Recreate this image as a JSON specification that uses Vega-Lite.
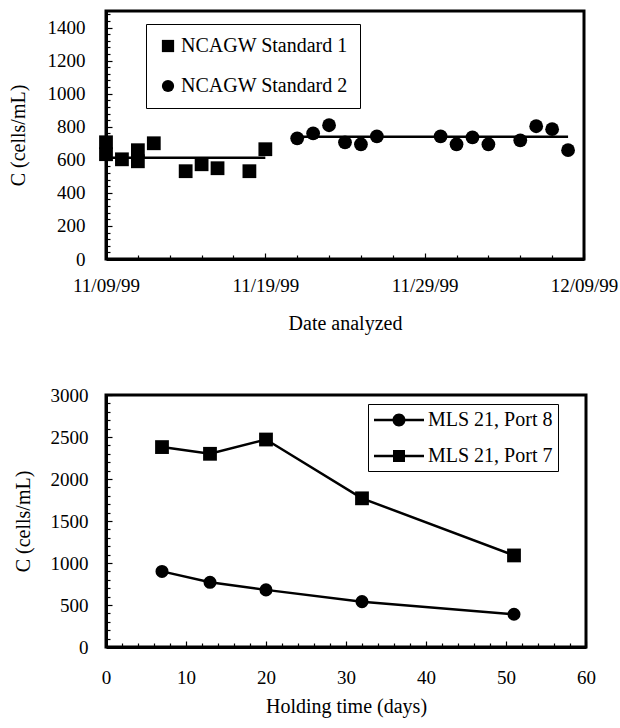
{
  "$schema": "https://vega.github.io/schema/vega-lite/v6.json",
  "padding": {"left": 6, "top": 3, "right": 0, "bottom": 5},
  "background": "white",
  "spacing": 49,
  "resolve": {"scale": {"shape": "independent", "x": "independent", "y": "independent"}, "legend": {"shape": "independent"}},
  "config": {
    "font": "Liberation Serif",
    "view": {"stroke": "black", "strokeWidth": 3},
    "axis": {
      "domainColor": "black", "domainWidth": 3, "tickColor": "black", "tickWidth": 1.2,
      "labelFont": "Liberation Serif", "labelFontSize": 19, "labelColor": "black",
      "titleFont": "Liberation Serif", "titleFontSize": 20, "titleFontWeight": "normal", "titleColor": "black",
      "grid": false, "labelFlush": false, "labelOverlap": false, "labelBound": false
    },
    "legend": {"labelFont": "Liberation Serif", "labelFontSize": 20, "labelColor": "black", "labelLimit": 400}
  },
  "datasets": {
    "top": [
      {"date": "1999-11-09", "value": 706, "series": "NCAGW Standard 1"},
      {"date": "1999-11-09", "value": 634, "series": "NCAGW Standard 1"},
      {"date": "1999-11-10", "value": 603, "series": "NCAGW Standard 1"},
      {"date": "1999-11-11", "value": 658, "series": "NCAGW Standard 1"},
      {"date": "1999-11-11", "value": 591, "series": "NCAGW Standard 1"},
      {"date": "1999-11-12", "value": 700, "series": "NCAGW Standard 1"},
      {"date": "1999-11-14", "value": 531, "series": "NCAGW Standard 1"},
      {"date": "1999-11-15", "value": 573, "series": "NCAGW Standard 1"},
      {"date": "1999-11-16", "value": 549, "series": "NCAGW Standard 1"},
      {"date": "1999-11-18", "value": 531, "series": "NCAGW Standard 1"},
      {"date": "1999-11-19", "value": 664, "series": "NCAGW Standard 1"},
      {"date": "1999-11-21", "value": 730, "series": "NCAGW Standard 2"},
      {"date": "1999-11-22", "value": 760, "series": "NCAGW Standard 2"},
      {"date": "1999-11-23", "value": 809, "series": "NCAGW Standard 2"},
      {"date": "1999-11-24", "value": 706, "series": "NCAGW Standard 2"},
      {"date": "1999-11-25", "value": 694, "series": "NCAGW Standard 2"},
      {"date": "1999-11-26", "value": 742, "series": "NCAGW Standard 2"},
      {"date": "1999-11-30", "value": 742, "series": "NCAGW Standard 2"},
      {"date": "1999-12-01", "value": 694, "series": "NCAGW Standard 2"},
      {"date": "1999-12-02", "value": 736, "series": "NCAGW Standard 2"},
      {"date": "1999-12-03", "value": 694, "series": "NCAGW Standard 2"},
      {"date": "1999-12-05", "value": 718, "series": "NCAGW Standard 2"},
      {"date": "1999-12-06", "value": 803, "series": "NCAGW Standard 2"},
      {"date": "1999-12-07", "value": 785, "series": "NCAGW Standard 2"},
      {"date": "1999-12-08", "value": 658, "series": "NCAGW Standard 2"}
    ],
    "topMean": [
      {"date": "1999-11-09", "end": "1999-11-19", "value": 613, "series": "NCAGW Standard 1"},
      {"date": "1999-11-21", "end": "1999-12-08", "value": 740, "series": "NCAGW Standard 2"}
    ],
    "bottom": [
      {"t": 7, "value": 900, "series": "MLS 21, Port 8"},
      {"t": 13, "value": 770, "series": "MLS 21, Port 8"},
      {"t": 20, "value": 680, "series": "MLS 21, Port 8"},
      {"t": 32, "value": 540, "series": "MLS 21, Port 8"},
      {"t": 51, "value": 390, "series": "MLS 21, Port 8"},
      {"t": 7, "value": 2380, "series": "MLS 21, Port 7"},
      {"t": 13, "value": 2300, "series": "MLS 21, Port 7"},
      {"t": 20, "value": 2470, "series": "MLS 21, Port 7"},
      {"t": 32, "value": 1770, "series": "MLS 21, Port 7"},
      {"t": 51, "value": 1090, "series": "MLS 21, Port 7"}
    ]
  },
  "vconcat": [
    {
      "width": 478,
      "height": 248,
      "encoding": {
        "x": {
          "field": "date", "type": "temporal",
          "scale": {"type": "utc", "domain": [{"year": 1999, "month": 11, "date": 9, "utc": true}, {"year": 1999, "month": 12, "date": 9, "utc": true}]},
          "axis": {
            "title": "Date analyzed",
            "tickCount": {"interval": "day", "step": 2},
            "labelExpr": "utcdate(datum.value) % 10 == 9 ? utcFormat(datum.value, '%m/%d/%y') : ''",
            "tickSize": {"condition": {"test": "utcdate(datum.value) % 10 == 9", "value": -6}, "value": -4},
            "labelPadding": 23,
            "titlePadding": 16
          }
        },
        "y": {
          "field": "value", "type": "quantitative",
          "scale": {"domain": [0, 1500], "nice": false},
          "axis": {
            "title": "C (cells/mL)",
            "format": "d",
            "values": [0,40,80,120,160,200,240,280,320,360,400,440,480,520,560,600,640,680,720,760,800,840,880,920,960,1000,1040,1080,1120,1160,1200,1240,1280,1320,1360,1400,1440,1480],
            "labelExpr": "datum.value % 200 == 0 ? datum.label : ''",
            "tickSize": {"condition": {"test": "datum.value % 200 == 0", "value": -6}, "value": -4},
            "labelPadding": 27,
            "titlePadding": 19
          }
        }
      },
      "layer": [
        {
          "data": {"name": "topMean"},
          "mark": {"type": "rule", "color": "black", "strokeWidth": 2.5},
          "encoding": {
            "x2": {"field": "end"}
          }
        },
        {
          "data": {"name": "top"},
          "mark": {"type": "point", "filled": true, "color": "black", "opacity": 1, "size": 190},
          "encoding": {
            "shape": {
              "field": "series", "type": "nominal",
              "scale": {"domain": ["NCAGW Standard 1", "NCAGW Standard 2"], "range": ["square", "circle"]},
              "legend": {
                "title": null, "orient": "none", "legendX": 40, "legendY": 13,
                "strokeColor": "black", "fillColor": "white", "padding": 12,
                "symbolSize": 150, "symbolFillColor": "black", "symbolStrokeColor": "black",
                "rowPadding": 20, "labelOffset": 3
              }
            }
          }
        }
      ]
    },
    {
      "width": 480,
      "height": 252,
      "data": {"name": "bottom"},
      "encoding": {
        "x": {
          "field": "t", "type": "quantitative",
          "scale": {"domain": [0, 60], "nice": false},
          "axis": {
            "title": "Holding time (days)",
            "format": "d",
            "values": [0,2,4,6,8,10,12,14,16,18,20,22,24,26,28,30,32,34,36,38,40,42,44,46,48,50,52,54,56,58,60],
            "labelExpr": "datum.value % 10 == 0 ? datum.label : ''",
            "tickSize": {"condition": {"test": "datum.value % 10 == 0", "value": -6}, "value": -4},
            "labelPadding": 27,
            "titlePadding": 7
          }
        },
        "y": {
          "field": "value", "type": "quantitative",
          "scale": {"domain": [0, 3000], "nice": false},
          "axis": {
            "title": "C (cells/mL)",
            "format": "d",
            "values": [0,100,200,300,400,500,600,700,800,900,1000,1100,1200,1300,1400,1500,1600,1700,1800,1900,2000,2100,2200,2300,2400,2500,2600,2700,2800,2900,3000],
            "labelExpr": "datum.value % 500 == 0 ? datum.label : ''",
            "tickSize": {"condition": {"test": "datum.value % 500 == 0", "value": -6}, "value": -4},
            "labelPadding": 24,
            "titlePadding": 17
          }
        }
      },
      "layer": [
        {
          "mark": {"type": "line", "color": "black", "strokeWidth": 2.5},
          "encoding": {"detail": {"field": "series"}}
        },
        {
          "transform": [{"filter": "datum.series === 'MLS 21, Port 8'"}],
          "mark": {"type": "point", "shape": "circle", "filled": true, "color": "black", "opacity": 1, "size": 170}
        },
        {
          "transform": [{"filter": "datum.series === 'MLS 21, Port 7'"}],
          "mark": {"type": "point", "shape": "square", "filled": true, "color": "black", "opacity": 1, "size": 190}
        },
        {
          "transform": [{"filter": "false"}],
          "mark": {"type": "point", "filled": true, "color": "black", "opacity": 1},
          "encoding": {
            "shape": {
              "field": "series", "type": "nominal",
              "scale": {"domain": ["MLS 21, Port 8", "MLS 21, Port 7"], "range": ["M-1,-0.12H4V0.12H-1ZM2.15,0A0.65,0.65,0,1,1,0.85,0A0.65,0.65,0,1,1,2.15,0Z", "M-1,-0.12H4V0.12H-1ZM0.9,-0.6H2.1V0.6H0.9Z"]},
              "legend": {
                "title": null, "orient": "none", "legendX": 262, "legendY": 9,
                "strokeColor": "black", "fillColor": "white", "padding": 5,
                "symbolSize": 400, "symbolFillColor": "black",
                "rowPadding": 15, "labelOffset": 33
              }
            }
          }
        }
      ]
    }
  ]
}
